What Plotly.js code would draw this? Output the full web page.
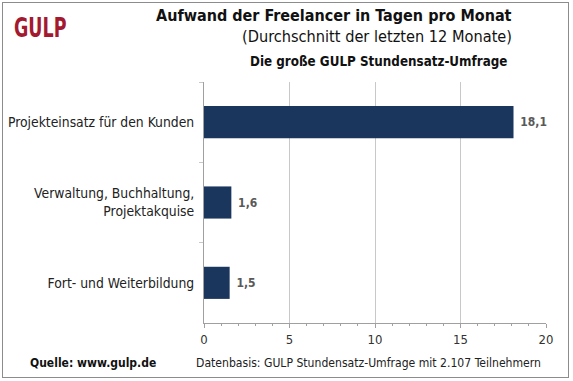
<!DOCTYPE html>
<html><head><meta charset="utf-8">
<script src="https://cdn.plot.ly/plotly-3.0.1.min.js"></script>
<style>
html,body{margin:0;padding:0;background:#fff;}
#wrap{position:relative;width:573px;height:381px;}
#chart{width:573px;height:381px;}
#frame{position:absolute;left:2px;top:2px;width:565px;height:374px;border:1px solid #8c8c8c;pointer-events:none;}
</style></head>
<body><div id="wrap"><div id="chart"></div><div id="frame"></div></div>
<script>
const categories = ["Projekteinsatz für den Kunden", "Verwaltung, Buchhaltung,<br>Projektakquise", "Fort- und Weiterbildung"];
const values = [18.1, 1.6, 1.5];
const xTicks = [0, 5, 10, 15, 20];

const F = "Tahoma, 'DejaVu Sans Condensed', 'DejaVu Sans', sans-serif";

const trace = {
  type: 'bar', orientation: 'h',
  y: categories, x: values,
  marker: {color: '#1b365d'},
  texttemplate: ' %{x:.1f}', textposition: 'outside', cliponaxis: false,
  textfont: {family: F, size: 12, color: '#595959', weight: 'bold'},
  hoverinfo: 'none'
};

const layout = {
  width: 573, height: 381,
  margin: {l: 204, r: 27, t: 82, b: 58},
  paper_bgcolor: '#fff', plot_bgcolor: '#fff',
  separators: ',.',
  bargap: 0.6,
  showlegend: false,
  font: {family: F, size: 12, color: '#222'},
  xaxis: {
    range: [0, 20], tickvals: xTicks, ticktext: xTicks.map(String),
    showgrid: true, gridcolor: '#c8c8c8', gridwidth: 1,
    zeroline: false, showline: true, linecolor: '#a0a0a0', linewidth: 1,
    ticks: 'outside', ticklen: 4, tickcolor: '#a0a0a0',
    minor: {dtick: 1, ticks: 'outside', ticklen: 2, tickcolor: '#a0a0a0', showgrid: false},
    tickfont: {family: F, size: 13, color: '#333'}, fixedrange: true
  },
  yaxis: {
    autorange: 'reversed', type: 'category',
    showline: true, linecolor: '#a0a0a0', linewidth: 1,
    ticks: 'outside', tickson: 'boundaries', ticklen: 4, tickcolor: '#c8c8c8',
    showgrid: false, ticklabelstandoff: 6,
    tickfont: {family: F, size: 13.8, color: '#222'}, fixedrange: true
  },
  annotations: [
    {text: 'GULP', xref: 'paper', yref: 'paper', x: -0.56, y: 1.228, xanchor: 'left', yanchor: 'middle', showarrow: false,
     font: {family: "'DejaVu Sans Condensed', sans-serif", size: 27, color: '#a3192f', weight: 'bold'}},
    {text: '<b>Aufwand der Freelancer in Tagen pro Monat</b>', xref: 'paper', yref: 'paper', x: 0.907, y: 1.278, xanchor: 'right', yanchor: 'middle', showarrow: false,
     font: {family: F, size: 16, color: '#111'}},
    {text: '(Durchschnitt der letzten 12 Monate)', xref: 'paper', yref: 'paper', x: 0.907, y: 1.187, xanchor: 'right', yanchor: 'middle', showarrow: false,
     font: {family: F, size: 16.2, color: '#111'}},
    {text: '<b>Die große GULP Stundensatz-Umfrage</b>', xref: 'paper', yref: 'paper', x: 0.891, y: 1.087, xanchor: 'right', yanchor: 'middle', showarrow: false,
     font: {family: F, size: 13.3, color: '#111'}},
    {text: '<b>Quelle: www.gulp.de</b>', xref: 'paper', yref: 'paper', x: -0.516, y: -0.166, xanchor: 'left', yanchor: 'middle', showarrow: false,
     font: {family: F, size: 12, color: '#111'}},
    {text: 'Datenbasis: GULP Stundensatz-Umfrage mit 2.107 Teilnehmern', xref: 'paper', yref: 'paper', x: -0.03, y: -0.166, xanchor: 'left', yanchor: 'middle', showarrow: false,
     font: {family: F, size: 12.1, color: '#222'}}
  ]
};

Plotly.newPlot('chart', [trace], layout, {staticPlot: true, displayModeBar: false}).then(function () {
  const logo = document.querySelector('.annotation .annotation-text');
  if (logo) {
    logo.style.transformBox = 'fill-box';
    logo.style.transformOrigin = 'left center';
    logo.style.transform = 'scaleX(0.72)';
  }
});
</script></body></html>
